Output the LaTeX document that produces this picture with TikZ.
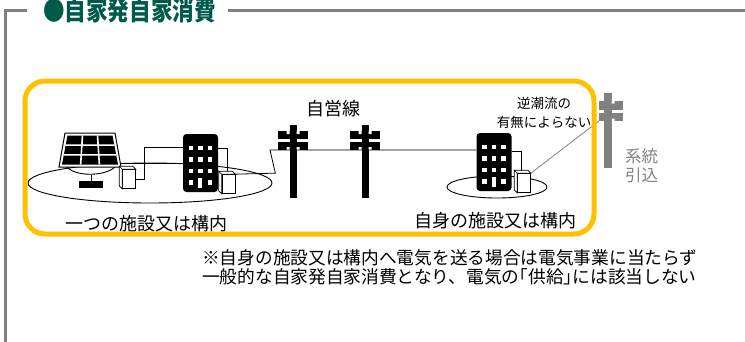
\documentclass[tikz,border=0pt]{standalone}
\usepackage{fontspec}
\setmainfont{Noto Sans CJK JP}
\newfontfamily\halfpunct{Noto Sans CJK JP}[RawFeature=+halt]
\usetikzlibrary{calc}

\definecolor{framegray}{RGB}{128,128,128}
\definecolor{headgreen}{RGB}{0,90,76}
\definecolor{markyellow}{RGB}{255,192,0}

\begin{document}
\begin{tikzpicture}[x=1pt,y=-1pt,
    wire/.style={draw=black,line width=0.8pt},
    bldg/.style={fill=black,minimum width=35pt,minimum height=58pt,inner sep=0pt,rounded corners=3.5pt},
    pcs/.style={draw=black,fill=white,line width=0.7pt,minimum width=13pt,minimum height=19pt,inner sep=0pt},
    lbl/.style={font=\fontsize{18}{19}\selectfont,inner sep=0pt},
    small/.style={font=\fontsize{13.5}{19}\selectfont,inner sep=0pt,align=center}]

    \useasboundingbox (0,0) rectangle (745,341);

    % frame and heading
    \draw[framegray,line width=3pt] (27,10.5) -- (5.5,10.5) -- (5.5,345);
    \draw[framegray,line width=3pt] (228,10.5) -- (750,10.5);
    \node[anchor=base west,inner sep=0pt,text=headgreen,xscale=0.83,font=\fontsize{26}{26}\selectfont\bfseries] (title) at (43,20) {●自家発自家消費};

    % grounds
    \draw[line width=0.9pt] (150,183) ellipse [x radius=122, y radius=20];
    \draw[line width=0.9pt] (497,187) ellipse [x radius=50, y radius=11];

    % solar panel
    \coordinate (tl) at (65,133);
    \coordinate (tr) at (115,133);
    \coordinate (bl) at (59,167);
    \coordinate (br) at (121,167);
    \draw[line width=0.9pt] (66,166) .. controls (74,177) and (106,177) .. (116,166);
    \draw[line width=1pt] (91,175) -- (91,181);
    \fill (79,181) rectangle (103,188);
    \filldraw[fill=white,draw=black,line width=1pt] (tl) -- (tr) -- (br) -- (bl) -- cycle;
    \fill (67.5,135.5) coordinate (itl) -- (112.5,135.5) coordinate (itr)
        -- (118,164.5) coordinate (ibr) -- (62,164.5) coordinate (ibl) -- cycle;
    \foreach \t in {0.333,0.667}
        \draw[white,line width=1.6pt] ($(itl)!\t!(itr)$) -- ($(ibl)!\t!(ibr)$)
            ($(itl)!\t!(ibl)$) -- ($(itr)!\t!(ibr)$);

    % buildings
    \node[bldg] (bldgA) at (200.5,163) {};
    \node[bldg] (bldgB) at (494,162) {};
    \foreach \b in {bldgA,bldgB} {
        \foreach \c in {8,17.5,27}
            \foreach \r in {14,25.5,37}
                \fill[white] ($(\b.north west)+(\c-2.2,\r-2.2)$) rectangle ++(4.4,4.4);
        \foreach \c in {8,27}
            \fill[white] ($(\b.north west)+(\c-2.2,46.3)$) rectangle ++(4.4,4.4);
        \fill[white] ($(\b.north west)+(15.5,44)$) rectangle ++(4,10);
    }

    % power units
    \node[pcs] (pcsA) at (129,179) {};
    \node[pcs] (pcsB) at (228.5,184) {};
    \node[pcs] (pcsC) at (524,183) {};
    \foreach \p in {pcsA,pcsB,pcsC}
        \filldraw[fill=white,draw=black,line width=0.7pt]
            (\p.north west) -- ++(-3,-3) -- ($(\p.north east)+(-3,-3)$) -- (\p.north east) -- cycle
            (\p.north west) -- ++(-3,-3) -- ($(\p.south west)+(-3,-3)$) -- (\p.south west) -- cycle;

    % poles
    \foreach \x/\n in {293/p1,365/p2} {
        \fill (\x-3.5,125) rectangle (\x+3.5,197.5);
        \fill (\x-15,131) rectangle (\x+15,139);
        \fill (\x-15,142) rectangle (\x+15,150);
        \fill[white] (\x-6.5,131) rectangle (\x-3.5,134) (\x+3.5,131) rectangle (\x+6.5,134);
        \fill[white] (\x-6.5,147) rectangle (\x-3.5,150) (\x+3.5,147) rectangle (\x+6.5,150);
        \coordinate (\n) at (\x,150);
    }
    \begin{scope}[framegray]
        \fill (603.5,93) rectangle (611.5,168);
        \fill (599,101) rectangle (623,110);
        \fill (599,113) rectangle (623,121);
        \fill[white] (611.5,101) rectangle (614.5,103.5) (611.5,118.5) rectangle (614.5,121);
    \end{scope}
    \coordinate (gridin) at (599,121);

    % wiring
    \draw[wire] (bldgA.west -| br) -- (bldgA.west);
    \draw[wire] (pcsA.east) -- ++(9,0) |- ($(bldgA.north west)+(0,14)$);
    \draw[wire] ($(bldgA.north east)+(0,15)$) -| ($(pcsB.north)+(-1.5,-3)$);
    \draw[wire] (pcsB.north east) -- ++(40,-1) -- ($(p1)+(-23,0)$) -- (p1) -- (p2) -- (bldgB.west |- p2);
    \draw[wire] ($(bldgB.north east)+(0,19)$) -| ($(pcsC.north)+(-3,-2)$);
    \draw[framegray,line width=0.8pt] (pcsC.north east) -- (gridin);

    % labels
    \node[lbl] (ownline) at (333,109) {自営線};
    \node[small] (noreverse) at (544,112.5) {逆潮流の\\有無によらない};
    \node[lbl] (siteA) at (146.5,224) {一つの施設又は構内};
    \node[lbl] (siteB) at (495,221) {自身の施設又は構内};
    \node[lbl,anchor=west,align=left,text=framegray,font=\fontsize{16.5}{19}\selectfont] (gridlbl) at (625,165.5) {系統\\引込};

    \draw[markyellow,line width=5pt,rounded corners=20pt] (25,81) rectangle (594,234);

    \node[lbl,anchor=west,align=left,font=\fontsize{17.7}{19}\selectfont] (note) at (202,267)
        {※自身の施設又は構内へ電気を送る場合は電気事業に当たらず\\一般的な自家発自家消費となり、電気の{\halfpunct「}供給{\halfpunct」}には該当しない};
\end{tikzpicture}
\end{document}
